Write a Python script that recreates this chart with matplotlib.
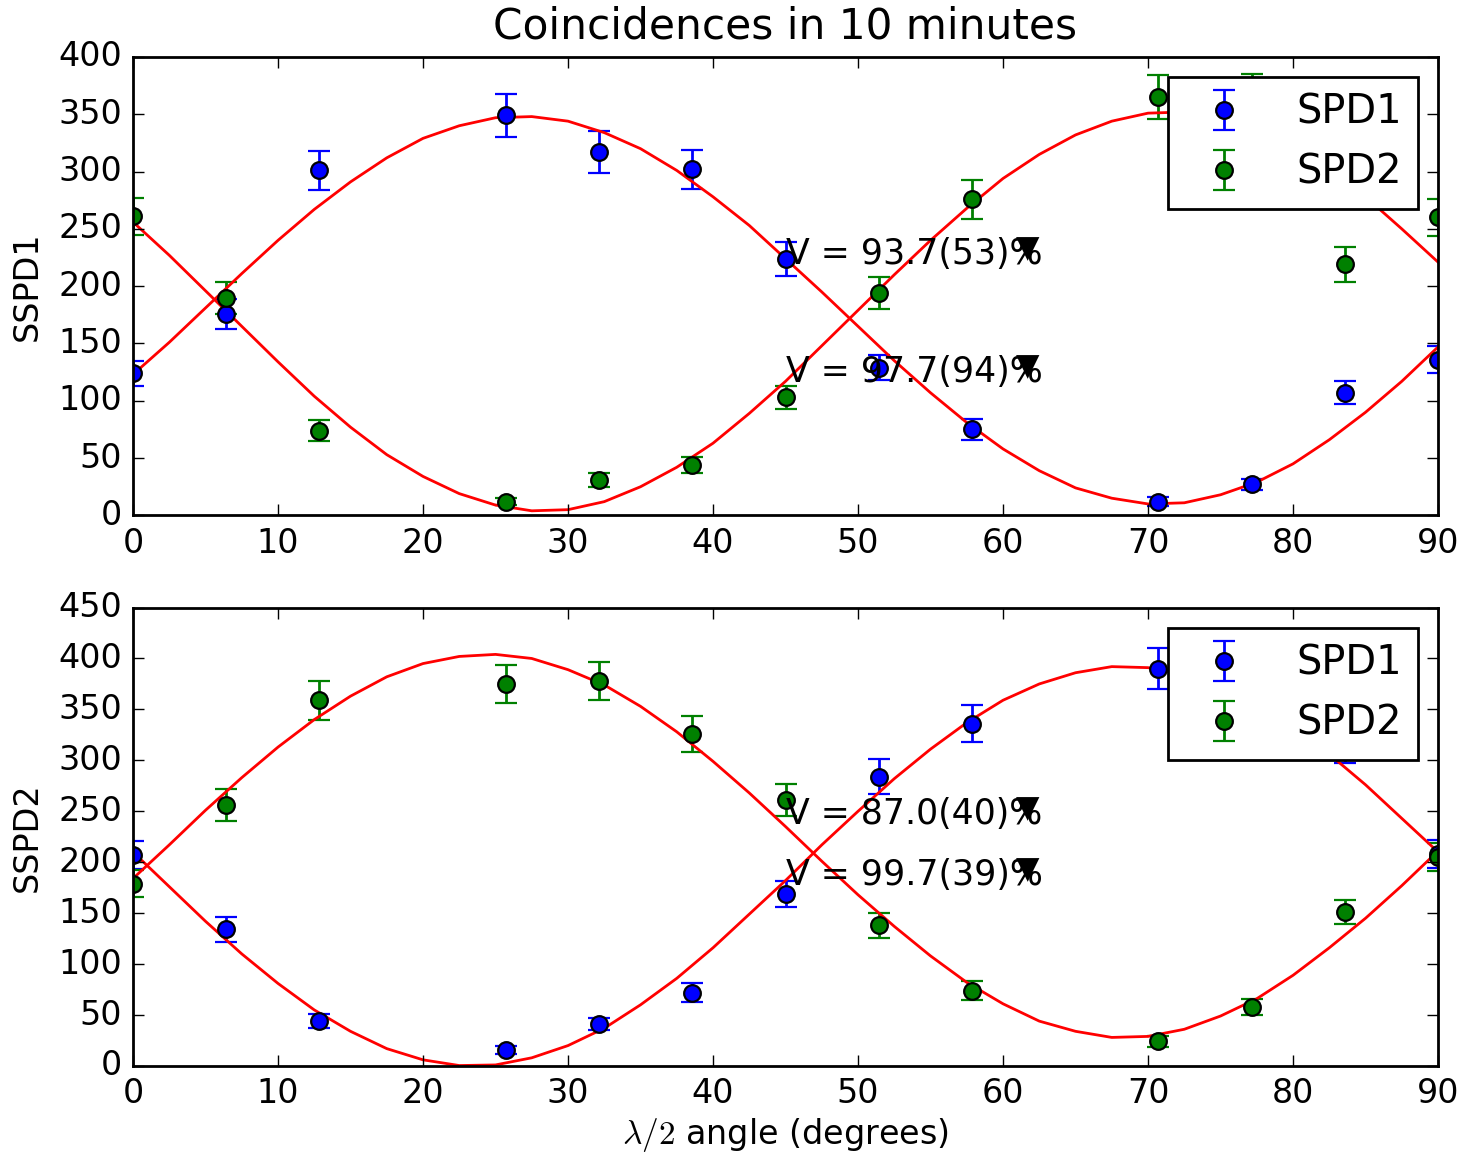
import numpy as np
import matplotlib
matplotlib.use('Agg')
from matplotlib import pyplot as plt

plt.style.use('classic')
plt.rcParams['font.family'] = ['DejaVu Sans']

# half-wave plate angles of the measurements (degrees)
angles = [0.0, 6.43, 12.86, 25.71, 32.14, 38.57, 45.0, 51.43, 57.86, 70.71, 77.14, 83.57, 90.0]

# top panel (SSPD1)
top_spd1 = [124, 176, 301, 349, 317, 302, 224, 129, 75, 12, 27, 107, 136]
top_spd1_err = [11, 13, 17, 19, 18, 17, 15, 11, 9, 4, 5, 10, 12]
top_spd2 = [261, 190, 74, 12, 31, 44, 103, 194, 276, 365, 366, 219, 260]
top_spd2_err = [16, 14, 9, 3, 6, 7, 10, 14, 17, 19, 19, 15, 16]

# bottom panel (SSPD2)
bot_spd1 = [207, 134, 44, 16, 41, 72, 169, 284, 336, 390, 380, 315, 208]
bot_spd1_err = [14, 12, 7, 4, 6, 9, 13, 17, 18, 20, 19, 18, 14]
bot_spd2 = [179, 256, 359, 375, 378, 326, 261, 138, 74, 24, 58, 151, 205]
bot_spd2_err = [13, 16, 19, 19, 19, 18, 16, 12, 9, 5, 8, 12, 14]

# fitted curves, every 2.5 degrees
fit_angles = [0, 2.5, 5, 7.5, 10, 12.5, 15, 17.5, 20, 22.5, 25, 27.5, 30, 32.5, 35, 37.5,
	40, 42.5, 45, 47.5, 50, 52.5, 55, 57.5, 60, 62.5, 65, 67.5, 70, 72.5, 75, 77.5,
	80, 82.5, 85, 87.5, 90]
top_fit1 = [123, 151, 181, 211, 240, 267, 291, 312, 329, 340, 347, 348, 344, 334, 320, 301,
	278, 253, 224, 195, 165, 135, 107, 81, 58, 39, 24, 15, 10, 11, 18, 29,
	45, 66, 90, 117, 147]
top_fit2 = [256, 227, 196, 165, 134, 104, 77, 53, 34, 19, 9, 4, 5, 12, 25, 42,
	63, 89, 117, 148, 179, 210, 240, 268, 294, 315, 332, 344, 351, 352, 347, 337,
	322, 302, 278, 250, 221]
bot_fit1 = [210, 176, 142, 110, 81, 55, 34, 17, 6, 0.4, 1, 8, 20, 37, 60, 86,
	116, 149, 182, 217, 250, 282, 311, 337, 359, 375, 386, 392, 391, 384, 372, 355,
	332, 306, 276, 243, 210]
bot_fit2 = [184, 217, 251, 283, 313, 340, 363, 382, 395, 402, 404, 400, 389, 374, 353, 328,
	299, 268, 235, 201, 168, 137, 108, 82, 61, 44, 34, 28, 29, 36, 49, 66,
	89, 116, 145, 177, 211]

top_texts = ["V = 93.7(53)", "V = 97.7(94)"]
top_text_y = [219, 116]
bot_texts = ["V = 87.0(40)", "V = 99.7(39)"]
bot_text_y = [238, 178]

fig, (ax1, ax2) = plt.subplots(2, 1, figsize=(7.34, 5.78), dpi=200)
plt.subplots_adjust(left=0.0906, right=0.9796, top=0.9507, bottom=0.0779, hspace=0.201)


def panel(ax, d1, e1, d2, e2, f1, f2, texts, ty, ymax):
	ax.errorbar(angles, d1, yerr=e1, ls=' ', marker='o', c='b', mec='k', mew=0.8, capsize=4, label='SPD1')
	ax.errorbar(angles, d2, yerr=e2, ls=' ', marker='o', c='g', mec='k', mew=0.8, capsize=4, label='SPD2')
	ax.plot(fit_angles, f1, 'r-')
	ax.plot(fit_angles, f2, 'r-')
	for s, y in zip(texts, ty):
		ax.text(45, y, s + '%', fontsize=12.5)
		ghost = ax.text(45, y, s, fontsize=12.5, color='none')
		# the stray black triangle sitting on the % sign
		ax.annotate(u'\u25bc', xy=(1, 1), xycoords=ghost, xytext=(2.5, 1),
			textcoords='offset points', ha='left', va='top', fontsize=11)
	ax.set_xlim(0, 90)
	ax.set_ylim(0, ymax)
	ax.legend(loc='upper right', numpoints=1)


panel(ax1, top_spd1, top_spd1_err, top_spd2, top_spd2_err, top_fit1, top_fit2, top_texts, top_text_y, 400)
panel(ax2, bot_spd1, bot_spd1_err, bot_spd2, bot_spd2_err, bot_fit1, bot_fit2, bot_texts, bot_text_y, 450)

ax1.set_title('Coincidences in 10 minutes', fontsize=15.2, pad=6.5)
ax1.set_ylabel('SSPD1')
ax2.set_ylabel('SSPD2')
ax2.set_xlabel(r'$\lambda/2$ angle (degrees)', labelpad=2)

plt.savefig('out.png', dpi=200)
